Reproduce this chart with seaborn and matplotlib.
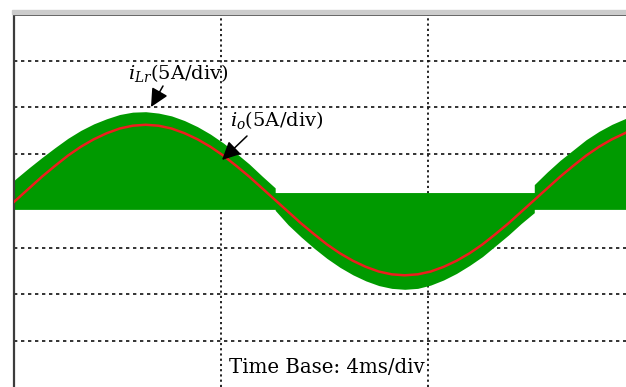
import matplotlib
matplotlib.use("Agg")
import matplotlib.pyplot as plt
from matplotlib.patches import Rectangle
import seaborn as sns

# ---- data (time in ms, amplitude in divisions; 5 A/div) ----
t_io = [0.0, 0.05, 0.30, 0.55, 0.80, 1.05, 1.30, 1.55, 1.80, 2.05, 2.30, 2.55,
        2.80, 3.05, 3.30, 3.55, 3.80, 4.05, 4.30, 4.55, 4.80, 5.05, 5.30, 5.55,
        5.80, 6.05, 6.30, 6.55, 6.80, 7.05, 7.30, 7.55, 7.80, 8.05, 8.30, 8.55,
        8.80, 9.05, 9.30, 9.55, 9.80, 10.05, 10.30, 10.55, 10.80, 11.05, 11.30,
        11.55, 11.80, 11.85]
io_div = [-0.03, 0.02, 0.27, 0.52, 0.75, 0.97, 1.16, 1.32, 1.45, 1.55, 1.61, 1.63,
          1.61, 1.55, 1.45, 1.32, 1.16, 0.97, 0.75, 0.52, 0.27, 0.02, -0.23, -0.48,
          -0.71, -0.93, -1.12, -1.28, -1.41, -1.51, -1.57, -1.59, -1.57, -1.51, -1.41, -1.28,
          -1.12, -0.93, -0.71, -0.48, -0.23, 0.02, 0.27, 0.52, 0.75, 0.97, 1.16,
          1.32, 1.45, 1.48]

t_ilr = [0.0, 0.05, 0.30, 0.55, 0.80, 1.05, 1.30, 1.55, 1.80, 2.05, 2.30, 2.55,
         2.80, 3.05, 3.30, 3.55, 3.80, 4.05, 4.30, 4.55, 4.80, 5.05, 5.05, 5.30, 5.55,
         5.80, 6.05, 6.30, 6.55, 6.80, 7.05, 7.30, 7.55, 7.80, 8.05, 8.30, 8.55,
         8.80, 9.05, 9.30, 9.55, 9.80, 10.05, 10.05, 10.30, 10.55, 10.80, 11.05, 11.30,
         11.55, 11.80, 11.85]
ilr_upper = [0.43, 0.48, 0.71, 0.93, 1.14, 1.34, 1.51, 1.65, 1.76, 1.85, 1.90, 1.91,
             1.88, 1.82, 1.72, 1.59, 1.43, 1.24, 1.02, 0.79, 0.53, 0.28, 0.18, 0.18, 0.18,
             0.18, 0.18, 0.18, 0.18, 0.18, 0.18, 0.18, 0.18, 0.18, 0.18, 0.18, 0.18,
             0.18, 0.18, 0.18, 0.18, 0.18, 0.18, 0.35, 0.62, 0.87, 1.09, 1.31, 1.49,
             1.64, 1.76, 1.78]
ilr_lower = [-0.18, -0.18, -0.18, -0.18, -0.18, -0.18, -0.18, -0.18, -0.18, -0.18, -0.18, -0.18,
             -0.18, -0.18, -0.18, -0.18, -0.18, -0.18, -0.18, -0.18, -0.18, -0.18, -0.20, -0.51, -0.77,
             -1.01, -1.23, -1.42, -1.58, -1.71, -1.81, -1.87, -1.89, -1.87, -1.80, -1.69, -1.55,
             -1.38, -1.19, -0.96, -0.73, -0.48, -0.25, -0.18, -0.18, -0.18, -0.18, -0.18, -0.18,
             -0.18, -0.18, -0.18]

x_grid = [4, 8]
y_grid = [-3, -2, -1, 0, 1, 2, 3]

label_ilr = r"$i_{Lr}$(5A/div)"
label_io = r"$i_{o}$(5A/div)"
label_tb = "Time Base: 4ms/div"

GREEN = "#009a00"
RED = "#ee1d1d"
GRIDC = "#111111"

sns.set_style("white")
plt.rcParams["font.family"] = ["DejaVu Serif", "DejaVu Sans"]
plt.rcParams["mathtext.fontset"] = "dejavuserif"

W, H = 626, 387
fig = plt.figure(figsize=(W / 100, H / 100), dpi=100)
ax = fig.add_axes([13.5 / W, 0, 1 - 13.5 / W, 1 - 14 / H])
ax.set_xlim(0, 11.82)
ax.set_ylim(-3.98, 4.0)

for xv in x_grid:
    ax.axvline(xv, color=GRIDC, lw=1.3, linestyle=(0, (1.2, 1.7)), zorder=0)
for yv in y_grid:
    ax.axhline(yv, color=GRIDC, lw=1.2, linestyle=(0, (2.0, 2.2)), zorder=0)

ax.fill_between(t_ilr, ilr_lower, ilr_upper, color=GREEN, lw=0, zorder=2)
sns.lineplot(x=t_io, y=io_div, ax=ax, color=RED, lw=1.8, estimator=None,
             sort=False, zorder=3)

ax.set_xticks([])
ax.set_yticks([])
ax.set_xlabel("")
ax.set_ylabel("")
for s in ["right", "bottom"]:
    ax.spines[s].set_visible(False)
ax.spines["top"].set_color("#3c3c3c")
ax.spines["top"].set_linewidth(2.0)
ax.spines["left"].set_color("#3c3c3c")
ax.spines["left"].set_linewidth(1.6)

# light gray band above top border
fig.patches.append(Rectangle((11.5 / W, 1 - 13.5 / H), 1, 4 / H,
                             transform=fig.transFigure, color="#cccccc", zorder=0))

fig.text(128 / W, 1 - 79 / H, label_ilr, fontsize=14, va="baseline", ha="left",
         color="black")
fig.text(230 / W, 1 - 126 / H, label_io, fontsize=14, va="baseline", ha="left",
         color="black")
fig.text(229 / W, 1 - 373 / H, label_tb, fontsize=14.2, va="baseline", ha="left",
         color="black")

arrow = dict(arrowstyle="-|>,head_length=0.55,head_width=0.27", color="black",
             lw=1.1, mutation_scale=20, shrinkA=0, shrinkB=0)
ax.annotate("", xy=(151, H - 107), xycoords="figure pixels",
            xytext=(163, H - 86), textcoords="figure pixels", arrowprops=arrow)
ax.annotate("", xy=(222, H - 160), xycoords="figure pixels",
            xytext=(247, H - 136), textcoords="figure pixels", arrowprops=arrow)

fig.savefig("out.png", dpi=100)
